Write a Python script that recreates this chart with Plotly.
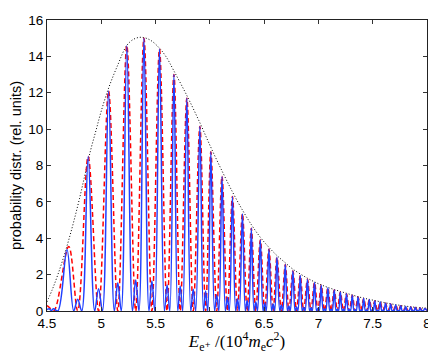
import plotly.graph_objects as go

# main peak positions (both curves) and heights
peak_x = [4.684, 4.879, 5.067, 5.235, 5.393, 5.536, 5.669, 5.788, 5.908, 6.009,
          6.112, 6.208, 6.300, 6.382, 6.465, 6.544, 6.618, 6.695, 6.765, 6.833,
          6.899, 6.964, 7.026, 7.087, 7.146, 7.202, 7.258, 7.312, 7.365, 7.417,
          7.469, 7.519, 7.569, 7.618, 7.665, 7.712, 7.758, 7.804, 7.849, 7.893,
          7.937, 7.980]
blue_peak = [3.38, 8.5, 12.1, 14.6, 15.0, 14.4, 13.0, 11.7, 10.15, 8.75,
             7.4, 6.3, 5.35, 4.55, 3.9, 3.4, 2.95, 2.55, 2.2, 1.95,
             1.75, 1.57, 1.42, 1.28, 1.16, 1.05, 0.95, 0.86, 0.77, 0.69,
             0.62, 0.55, 0.49, 0.43, 0.38, 0.33, 0.29, 0.25, 0.22, 0.19,
             0.16, 0.14]
red_peak_x = [4.700] + peak_x[1:]
red_peak = [3.55, 8.5, 12.1, 14.6, 15.0, 14.4, 13.0, 11.7, 10.15, 8.75,
            7.4, 6.3, 5.35, 4.55, 3.9, 3.4, 2.95, 2.55, 2.2, 1.95,
            1.75, 1.57, 1.42, 1.28, 1.16, 1.05, 0.95, 0.86, 0.77, 0.69,
            0.62, 0.55, 0.49, 0.43, 0.38, 0.33, 0.29, 0.25, 0.22, 0.19,
            0.16, 0.14]

# small side maxima of the blue curve, between main peaks
bump_x = [4.783, 4.975, 5.152, 5.317, 5.466, 5.606, 5.727, 5.847, 5.961, 6.063,
          6.161, 6.254, 6.343, 6.423, 6.505, 6.583, 6.658, 6.728, 6.798, 6.864,
          6.931, 6.995, 7.056, 7.116, 7.174, 7.230, 7.285, 7.338, 7.391, 7.443,
          7.494, 7.544, 7.593, 7.641, 7.688, 7.735, 7.781, 7.826, 7.871, 7.915,
          7.958]
bump_y = [0.65, 1.22, 1.55, 1.7, 1.65, 1.45, 1.38, 1.2, 1.1, 0.9,
          0.75, 0.67, 0.58, 0.5, 0.44, 0.38, 0.33, 0.28, 0.24, 0.21,
          0.18, 0.15, 0.13, 0.11, 0.1, 0.09, 0.08, 0.07, 0.06, 0.05,
          0.05, 0.04, 0.04, 0.03, 0.03, 0.03, 0.02, 0.02, 0.02, 0.02,
          0.01]
# zeros of the blue curve left and right of each side maximum
zero_left = [4.746, 4.939, 5.120, 5.287, 5.439, 5.581, 5.704, 5.824, 5.941, 6.043,
             6.143, 6.237, 6.327, 6.407, 6.490, 6.569, 6.644, 6.715, 6.785, 6.851,
             6.919, 6.983, 7.044, 7.105, 7.163, 7.219, 7.275, 7.328, 7.381, 7.433,
             7.484, 7.534, 7.584, 7.632, 7.679, 7.726, 7.772, 7.817, 7.863, 7.907,
             7.950]
zero_right = [4.820, 5.011, 5.184, 5.347, 5.493, 5.631, 5.750, 5.870, 5.981, 6.083,
              6.179, 6.271, 6.359, 6.439, 6.520, 6.597, 6.672, 6.741, 6.811, 6.877,
              6.943, 7.007, 7.068, 7.127, 7.185, 7.241, 7.295, 7.348, 7.401, 7.453,
              7.504, 7.554, 7.602, 7.650, 7.697, 7.744, 7.790, 7.835, 7.879, 7.923,
              7.966]
red_min = [0.0] * 41

# start / end of the curves
blue_start_x = [4.50, 4.52, 4.54, 4.56, 4.600]
blue_start_y = [0.08, 0.12, 0.03, 0.12, 0.0]
red_start_x = [4.50, 4.53, 4.565]
red_start_y = [0.3, 0.15, 0.02]
end_x = [8.0]
end_y = [0.03]

# dotted envelope
env_x = [4.50, 4.55, 4.60, 4.65, 4.70, 4.75, 4.80, 4.85, 4.90, 4.95, 5.00, 5.07,
         5.15, 5.235, 5.30, 5.37, 5.45, 5.536, 5.60, 5.669, 5.788, 5.908, 6.009,
         6.112, 6.208, 6.30, 6.382, 6.465, 6.544, 6.618, 6.695, 6.765, 6.90, 7.0,
         7.1, 7.2, 7.3, 7.4, 7.5, 7.6, 7.7, 7.8, 7.9, 8.0]
env_y = [0.5, 1.2, 2.0, 2.9, 3.9, 5.0, 6.2, 7.5, 8.8, 9.9, 11.0, 12.3,
         13.5, 14.6, 14.95, 15.05, 14.9, 14.45, 13.95, 13.2, 11.85, 10.35, 9.0,
         7.7, 6.55, 5.55, 4.75, 4.05, 3.5, 3.05, 2.65, 2.3, 1.8, 1.5,
         1.27, 1.08, 0.9, 0.73, 0.6, 0.47, 0.36, 0.27, 0.2, 0.15]

x_ticks = [4.5, 5, 5.5, 6, 6.5, 7, 7.5, 8]
x_ticktext = ["4.5", "5", "5.5", "6", "6.5", "7", "7.5", "8"]
y_ticks = [0, 2, 4, 6, 8, 10, 12, 14, 16]

# build the curves point by point
blue_x = list(blue_start_x)
blue_y = list(blue_start_y)
for i in range(len(bump_x)):
    blue_x += [peak_x[i], zero_left[i], bump_x[i], zero_right[i]]
    blue_y += [blue_peak[i], 0.0, bump_y[i], 0.0]
blue_x += [peak_x[-1]] + end_x
blue_y += [blue_peak[-1]] + end_y

red_x = list(red_start_x)
red_y = list(red_start_y)
for i in range(len(bump_x)):
    red_x += [red_peak_x[i], bump_x[i]]
    red_y += [red_peak[i], red_min[i]]
red_x += [red_peak_x[-1]] + end_x
red_y += [red_peak[-1]] + end_y

fig = go.Figure()
fig.add_trace(go.Scatter(x=env_x, y=env_y, mode="lines", line_shape="spline",
                         line=dict(color="black", width=1, dash="1px,2px")))
fig.add_trace(go.Scatter(x=red_x, y=red_y, mode="lines", line_shape="spline",
                         line=dict(color="#ff0000", width=1.5, dash="5px,3px")))
fig.add_trace(go.Scatter(x=blue_x, y=blue_y, mode="lines", line_shape="spline",
                         line=dict(color="#2040ff", width=1.5)))

axis_style = dict(showgrid=False, zeroline=False, showline=True, linecolor="#222222",
                  linewidth=1, mirror="allticks", ticks="inside", ticklen=4,
                  tickcolor="#333333", ticklabeloverflow="allow",
                  tickfont=dict(family="Liberation Sans, Arial", size=13.5, color="black"))

# the page body has an 8px margin, so the figure is a bit smaller than the window
fig.update_layout(
    width=428, height=346, autosize=False,
    margin=dict(l=39, r=8, t=5, b=43),
    paper_bgcolor="white", plot_bgcolor="white",
    showlegend=False,
)
fig.update_xaxes(range=[4.5, 8], tickmode="array", tickvals=x_ticks, ticktext=x_ticktext,
                 title=dict(text="<i>E</i><sub>e⁺</sub> /(10<sup>4</sup><i>m</i><sub>e</sub><i>c</i><sup>2</sup>)",
                            font=dict(family="Liberation Serif, DejaVu Serif", size=17, color="black"),
                            standoff=2),
                 **axis_style)
fig.update_yaxes(range=[0, 16], tickmode="array", tickvals=y_ticks,
                 title=dict(text="probability distr. (rel. units)",
                            font=dict(family="Liberation Sans, Arial", size=14.5, color="black"),
                            standoff=4),
                 **axis_style)

fig.write_html("out.html")
